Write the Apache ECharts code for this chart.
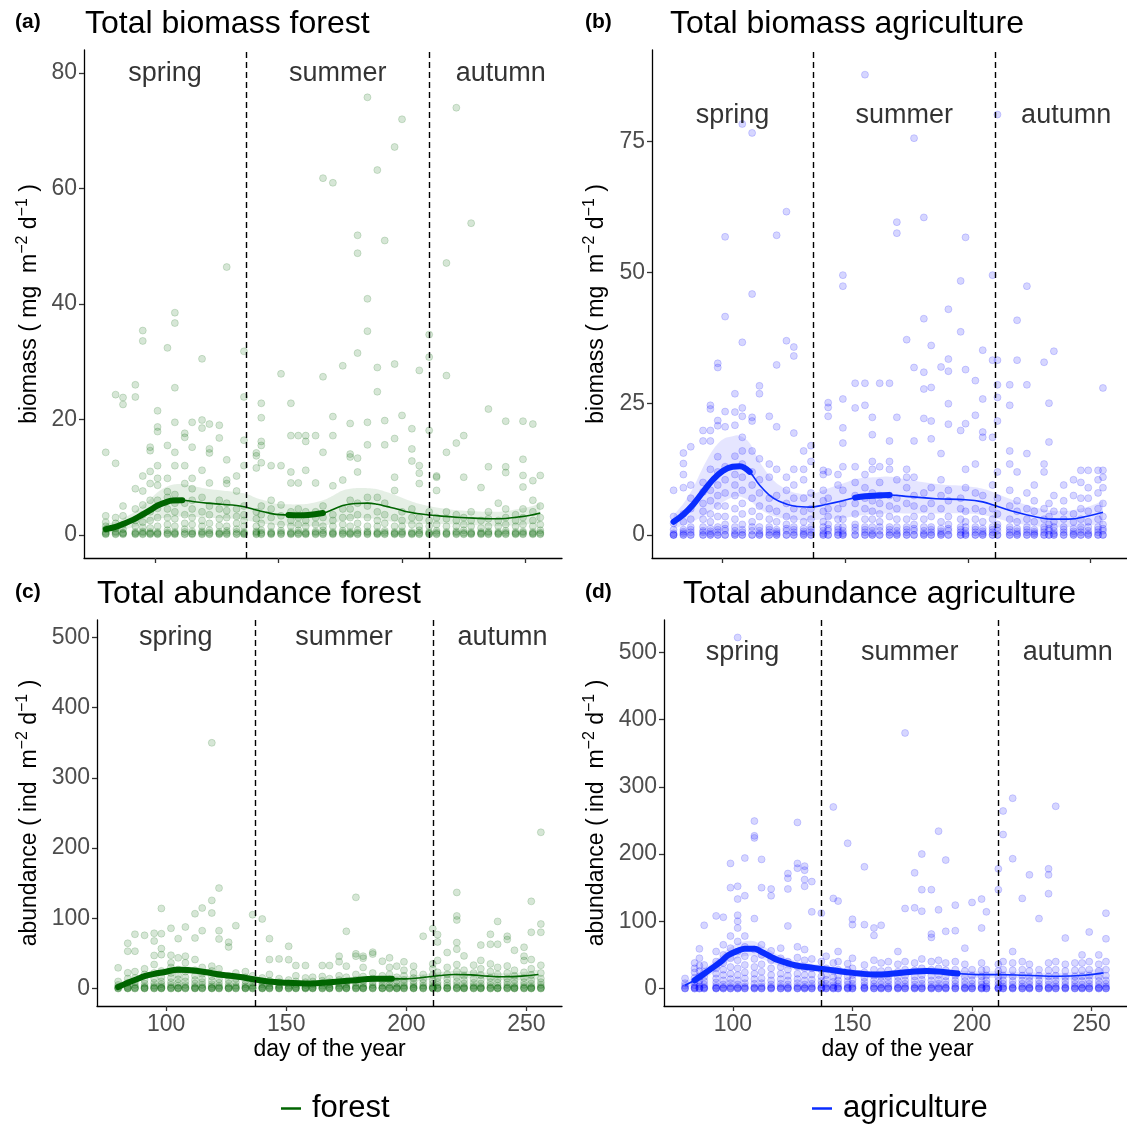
<!DOCTYPE html>
<html>
<head>
<meta charset="utf-8">
<title>Biomass and abundance by day of the year</title>
<script src="https://cdn.jsdelivr.net/npm/echarts@6/dist/echarts.min.js"></script>
<style>
  html, body { margin: 0; padding: 0; background: #ffffff; }
  #chart { width: 1127px; height: 1128px; }
</style>
</head>
<body>
<div id="chart"></div>
<script>
// ---- shared axis / season settings ----
const seasonBreaks = [137, 211];
const seasonNames = ['spring', 'summer', 'autumn'];
const seasonLabelDays = [104, 174, 240];
const dayTicks = [100, 150, 200, 250];
const biomassForestTicks = [0, 20, 40, 60, 80];
const biomassAgriTicks = [0, 25, 50, 75];
const abundanceTicks = [0, 100, 200, 300, 400, 500];

// ---- (a) total biomass, forest: trap samples per sampling day ----
const forestBiomassDays = [80,84,87,92,95,98,101,105,108,112,115,119,122,126,129,133,136,141,143,147,151,155,158,161,165,168,172,176,179,182,186,190,193,197,200,204,207,211,214,218,222,225,228,232,235,239,242,246,249,253,256];
const forestBiomassValues = [
  [0.1,0.2,0.3,0.5,1.0,1.5,2.2,3.3,14.3],
  [0.1,0.2,0.4,0.6,1.2,2.0,3.0,12.4,24.3],
  [0.1,0.2,0.3,0.4,1.0,1.8,3.3,5.0,22.6,23.8],
  [0.1,0.2,0.3,0.5,1.5,2.5,4.5,8.0,23.9,26.0],
  [0.1,0.2,0.4,0.6,1.3,2.2,3.5,5.2,7.6,10.2,33.6,35.4],
  [0.1,0.2,0.3,0.5,1.2,2.5,4.0,6.0,8.9,11.0,14.6,15.2],
  [0.1,0.2,0.3,0.5,1.5,3.0,4.6,6.0,8.6,9.8,12.0,17.9,18.7,21.5],
  [0.1,0.2,0.4,0.8,1.8,3.0,4.5,6.5,7.5,9.8,15.5,32.4],
  [0.1,0.2,0.3,0.5,1.5,2.8,4.0,5.5,7.0,12.0,14.3,19.5,25.5,36.7,38.5],
  [0.1,0.2,0.5,1.0,2.0,3.5,5.5,8.9,12.0,16.9,17.6],
  [0.1,0.2,0.3,0.6,1.8,3.0,4.5,6.0,8.0,9.8,15.2,19.5],
  [0.1,0.2,0.4,0.6,1.5,2.5,4.0,6.5,11.2,18.5,19.9,30.5],
  [0.1,0.2,0.4,0.8,2.0,3.5,5.0,9.0,14.2,14.9,19.2],
  [0.1,0.2,0.3,0.5,1.6,2.8,4.5,6.0,16.8,19.0],
  [0.1,0.2,0.4,0.7,1.5,3.0,4.2,5.5,8.9,9.5,13.0,46.4],
  [0.1,0.2,0.5,1.0,2.0,3.2,4.5,7.6,10.2],
  [0.1,0.2,0.3,0.5,1.5,2.5,3.5,5.0,12.0,16.4,23.9,31.8],
  [0.1,0.2,0.4,0.6,1.5,2.8,4.0,11.6,13.7,14.2],
  [0.1,0.2,0.4,0.8,2.0,3.5,5.0,12.5,15.5,16.2,20.3,22.8],
  [0.1,0.2,0.3,0.5,1.5,3.0,4.5,6.0,12.0],
  [0.1,0.2,0.4,0.7,1.8,3.3,5.2,12.0,27.9],
  [0.1,0.2,0.3,0.5,1.5,2.5,4.0,9.0,10.9,17.2,22.8],
  [0.1,0.2,0.4,0.8,1.8,3.0,4.5,9.0,17.2],
  [0.1,0.2,0.3,0.5,1.5,2.5,4.0,11.2,16.2,17.2],
  [0.1,0.2,0.4,0.6,1.8,3.0,4.0,9.0,17.2],
  [0.1,0.2,0.4,0.8,1.5,3.0,5.0,14.3,27.4,61.8],
  [0.1,0.2,0.3,0.5,1.5,2.5,3.5,8.5,17.2,20.5,61.0],
  [0.1,0.2,0.4,0.7,1.8,3.0,4.5,9.5,29.3],
  [0.1,0.2,0.3,0.5,1.5,3.0,4.5,6.0,13.5,14.0,19.3],
  [0.1,0.2,0.4,0.8,2.0,3.5,5.5,10.9,13.3,31.5,48.8,51.9],
  [0.1,0.2,0.4,0.6,1.5,3.0,5.0,6.5,15.6,19.5,35.3,40.9,75.8],
  [0.1,0.2,0.3,0.5,1.5,2.5,4.0,6.5,24.8,29.0,63.2],
  [0.1,0.2,0.4,0.7,2.0,3.5,5.5,15.6,19.8,51.0],
  [0.1,0.2,0.3,0.5,1.5,3.0,7.7,10.0,16.7,29.6,67.2],
  [0.1,0.2,0.4,0.6,1.5,2.5,4.0,20.7,72.0],
  [0.1,0.2,0.3,0.5,1.8,3.0,4.5,12.8,14.9,18.4],
  [0.1,0.2,0.4,0.8,1.5,3.0,8.9,10.7,12.0,28.5],
  [0.1,0.2,0.3,0.5,1.5,2.5,4.0,18.1,30.8,34.7],
  [0.1,0.2,0.4,0.7,1.8,3.0,7.7,10.0,10.2],
  [0.1,0.2,0.3,0.5,1.5,2.8,4.0,14.3,27.6,47.1],
  [0.1,0.2,0.4,0.6,1.5,2.5,3.5,15.9,74.0],
  [0.1,0.2,0.4,0.8,1.8,3.0,10.0,17.2],
  [0.1,0.2,0.3,0.5,1.5,2.5,4.0,54.0],
  [0.1,0.2,0.3,0.5,1.2,2.5,8.2],
  [0.1,0.2,0.4,0.6,1.5,2.8,4.0,11.8,21.8],
  [0.1,0.2,0.3,0.5,1.5,2.5,5.5],
  [0.1,0.2,0.4,0.7,1.8,3.0,4.5,10.8,11.8,19.7],
  [0.1,0.2,0.3,0.5,1.5,2.5,3.5],
  [0.1,0.2,0.4,0.6,1.8,3.0,4.5,8.3,10.3,13.1,19.7],
  [0.1,0.2,0.3,0.5,1.5,2.5,4.0,6.0,9.4,19.2],
  [0.1,0.2,0.4,0.8,1.8,3.0,5.0,10.3]
];
const forestBiomassFitDays = [80,84,87,91,94,98,101,104,107,111,116,121,127,133,137,141,145,149,154,158,162,168,172,176,181,186,190,194,198,202,206,211,216,222,229,236,242,247,252,256];
const forestBiomassFit  = [1.0,1.4,1.9,2.6,3.3,4.3,5.1,5.6,5.95,6.0,5.75,5.5,5.3,5.1,4.8,4.3,3.9,3.55,3.45,3.4,3.45,3.8,4.4,5.1,5.45,5.5,5.3,4.9,4.5,4.0,3.7,3.45,3.25,3.06,2.9,2.8,2.85,3.1,3.4,3.8];
const forestBiomassLow  = [0.3,0.6,0.9,1.3,1.7,2.3,2.7,3.0,3.1,3.2,3.1,3.0,2.9,2.8,2.5,2.2,1.9,1.7,1.6,1.5,1.5,1.6,2.0,2.5,2.8,2.9,2.7,2.4,2.2,1.9,1.9,1.9,1.9,1.8,1.7,1.6,1.6,1.7,1.9,2.1];
const forestBiomassHigh = [1.9,2.3,2.9,3.8,4.8,6.2,7.4,8.2,8.7,8.8,8.4,8.0,7.7,7.4,7.1,6.4,5.9,5.4,5.3,5.3,5.4,6.0,6.8,7.7,8.1,8.1,7.9,7.4,6.8,6.1,5.5,5.0,4.6,4.3,4.1,4.0,4.1,4.5,4.9,5.5];
const forestBiomassSignif = [[80, 111], [154, 168]];

// ---- (b) total biomass, agriculture ----
const agriBiomassDays = [80,84,87,92,95,98,101,105,108,112,115,119,122,126,129,133,136,141,143,147,149,154,158,161,164,168,171,175,178,182,185,189,192,197,199,203,206,210,212,217,220,224,227,231,233,235,239,243,246,249,253,255];
const agriBiomassValues = [
  [0,0,0,0.3,1.0,2.2,3.5,8.5],
  [0,0,0.3,0.6,1.0,2.5,4.0,9.0,11.5,13.6,15.6],
  [0,0,0.5,1.0,1.5,3.0,5.0,7.0,9.5,16.8],
  [0,0,0.5,0.8,1.5,3.0,4.5,6.0,8.2,10.0,17.9,19.9],
  [0,0,0.3,0.7,1.2,2.5,4.0,6.5,8.5,12.5,17.9,19.9,24.0,24.7],
  [0,0,0.5,1.0,1.5,3.5,5.5,7.5,9.5,12.0,14.9,20.8,21.8,31.9,32.7],
  [0,0,0.8,1.2,2.0,3.5,5.5,8.0,10.5,13.0,20.6,23.5,41.6,56.8],
  [0,0,0.3,0.8,1.5,3.0,5.0,7.5,9.5,11.5,15.0,20.9,23.4,26.9],
  [0,0,0.5,1.0,2.0,4.0,6.0,8.5,11.0,13.5,16.0,18.6,22.6,24.2,36.7,78.3],
  [0,0,0.8,1.5,2.5,4.5,7.0,9.5,12.0,16.0,21.7,22.4,45.9,76.6],
  [0,0,0.3,0.8,1.5,3.5,5.5,8.0,10.5,14.5,26.9,28.4],
  [0,0,0.5,1.0,1.5,3.0,5.0,7.0,11.0,13.5,22.6],
  [0,0,0.3,0.6,1.0,2.5,4.5,7.5,12.5,20.6,32.4,57.1],
  [0,0,0.8,1.2,2.0,3.5,6.0,8.5,11.0,37.0,61.6],
  [0,0,0.5,1.0,1.5,3.0,5.0,7.0,9.5,12.5,19.4,34.1,35.8],
  [0,0,0.3,0.7,1.2,2.5,4.5,7.0,10.5,12.5,16.0],
  [0,0,0.5,1.0,1.5,3.0,5.0,8.0,14.0,17.0],
  [0,0,0.3,0.8,1.5,2.5,4.5,6.5,8.5,11.5,12.3],
  [0,0,0.8,1.2,2.0,3.5,5.0,7.0,12.0,22.6,24.3,25.2],
  [0,0,0.5,1.0,1.5,3.0,5.0,9.5,11.5],
  [0,0,0.3,0.8,1.5,3.0,6.0,8.5,13.0,17.5,20.4,25.9,47.4,49.5],
  [0,0,0.8,1.4,2.0,4.0,6.0,7.5,10.0,13.0,24.2,28.9],
  [0,0,0.5,1.0,1.5,3.0,5.0,7.0,9.0,11.5,24.7,28.9,87.7],
  [0,0,0.3,0.8,1.5,3.0,4.5,6.5,8.0,12.5,14.0,19.1,22.4],
  [0,0,0.8,1.5,2.5,4.0,6.0,7.5,10.0,13.0,28.9],
  [0,0,0.5,1.0,1.5,3.5,5.5,7.5,12.5,14.0,17.9,28.9],
  [0,0,0.3,0.8,1.5,3.0,5.0,7.0,10.5,22.4,57.5,59.6],
  [0,0,0.5,1.0,1.5,3.0,6.0,9.0,11.0,12.5,37.2],
  [0,0,0.8,1.2,2.0,3.5,5.5,7.5,11.0,17.9,31.9,75.6],
  [0,0,0.3,0.8,1.5,3.0,5.0,8.0,22.2,27.8,31.0,41.2,60.5],
  [0,0,0.5,1.0,1.5,3.5,6.0,9.0,18.3,21.7,28.1,36.1],
  [0,0,0.3,0.7,1.2,2.5,5.0,7.5,10.5,15.5,32.0],
  [0,0,0.8,1.2,2.0,3.5,6.5,8.5,21.1,25.0,31.2,33.5,43.0],
  [0,0,0.5,1.0,1.5,3.0,5.0,7.0,19.9,38.7,48.4],
  [0,0,0.3,0.8,1.5,2.5,4.5,9.0,12.5,21.2,31.5,56.7],
  [0,0,0.5,1.0,1.5,3.0,5.0,8.0,13.5,22.8,29.4],
  [0,0,0.3,0.7,1.2,2.5,4.5,7.5,18.6,19.6,25.9,35.2],
  [0,0,0.5,1.0,1.5,3.0,5.0,9.5,18.6,33.3,49.5],
  [0,0,0.8,1.4,2.0,4.0,7.0,12.0,21.7,26.2,28.6,33.3,80.1],
  [0,0,0.5,1.0,1.5,3.0,5.5,8.5,13.5,16.0,24.7,28.6],
  [0,0,0.3,0.7,1.2,2.5,4.5,6.5,12.0,33.3,40.9],
  [0,0,0.5,1.0,1.5,3.0,5.0,8.0,15.5,28.6,47.4],
  [0,0,0.3,0.6,1.0,2.5,4.5,6.5,9.5],
  [0,0,0.5,1.0,1.5,3.0,5.0,12.0,13.5,32.9],
  [0,0,0.8,1.2,2.0,3.5,6.0,17.7,25.1],
  [0,0,0.3,0.8,1.5,2.5,4.5,7.5,35.0],
  [0,0,0.5,1.0,1.5,3.0,4.5,6.5,9.5],
  [0,0,0.3,0.7,1.2,2.5,4.0,7.5,10.5],
  [0,0,0.5,1.0,1.5,3.0,5.0,7.0,10.0,12.3],
  [0,0,0.3,0.8,1.5,2.5,4.5,7.0,9.0,12.3],
  [0,0,0.5,1.0,1.5,3.0,5.0,8.0,10.5,12.3],
  [0,0,0.8,1.2,2.0,3.5,6.0,9.0,11.0,12.3,28.0]
];
const agriBiomassFitDays = [80,84,88,92,96,100,104,107,111,115,119,123,129,136,142,149,154,158,163,168,176,187,199,206,211,219,227,234,241,249,255];
const agriBiomassFit  = [2.5,3.9,5.8,8.2,10.5,12.2,13.0,13.1,12.0,9.5,7.6,6.4,5.5,5.3,5.8,6.5,7.1,7.35,7.5,7.6,7.3,6.9,6.7,6.3,5.6,4.4,3.5,3.0,3.0,3.6,4.3];
const agriBiomassLow  = [1.2,1.8,2.6,3.5,4.8,6.2,7.2,7.3,6.5,5.0,3.9,3.3,2.9,2.8,3.0,3.2,3.6,3.8,4.0,4.1,4.1,4.1,4.1,3.8,3.2,2.3,1.7,1.5,1.5,1.8,2.1];
const agriBiomassHigh = [3.8,6.0,9.0,12.9,16.2,18.2,18.8,18.9,17.5,14.0,11.3,9.5,8.1,7.8,8.7,9.8,10.6,10.9,11.0,11.1,10.5,9.7,9.3,8.8,8.0,6.5,5.3,4.6,4.6,5.4,6.5];
const agriBiomassSignif = [[80, 111], [154, 168]];

// ---- (c) total abundance, forest ----
const forestAbundanceDays = [80,84,87,91,95,98,102,105,108,112,115,119,122,126,129,133,136,140,143,147,151,154,158,161,165,168,172,175,179,182,186,190,193,196,199,203,207,211,213,217,221,224,228,231,235,238,242,245,249,252,256];
const forestAbundanceValues = [
  [0,0,1,2,5,10,29.4],
  [0,0,1,1,3,8,14,22.3,53.1,64.4],
  [0,0,1,2,5,9,15,24,53.1,77.2],
  [0,0,1,1,3,7,12,20,28,75.7],
  [0,0,1,2,4,8,14,22,34.1,47,67.6,78.6],
  [0,0,1,1,3,6,10,16,25,48.2,56.8,78,114],
  [0,0,1,2,5,9,15,22,30,36.5,47.3,85.7],
  [0,0,1,1,4,8,13,19,27,43.6,71],
  [0,0,1,2,5,10,16,24,36.5,46,87.6],
  [0,0,1,1,3,7,12,18,26,41.2,71.9,106.5],
  [0,0,1,2,5,9,14,21,30,82.3,114.6],
  [0,0,1,1,3,6,11,17,25,31.8,107.5,125.5,350],
  [0,0,1,2,4,8,13,20,28,70.5,82.3,143],
  [0,0,1,1,3,7,12,18,59.2,65.8],
  [0,0,1,2,4,9,14,22,89.5],
  [0,0,1,1,3,6,11,16,24],
  [0,0,1,2,4,8,12,18,105.1],
  [0,0,1,1,3,6,10,15,99],
  [0,0,1,2,4,7,11,20,41.2,71],
  [0,0,1,1,3,5,9,14,42.1],
  [0,0,1,2,4,7,12,41,60.1],
  [0,0,1,1,3,6,10,18,32.7],
  [0,0,1,1,2,5,9,15,32.7],
  [0,0,1,1,3,6,10,16],
  [0,0,1,2,4,7,11,17,32.7],
  [0,0,1,1,3,6,9,14,32.7],
  [0,0,1,2,4,7,12,18,38,46],
  [0,0,1,1,3,6,10,16,31.8,81.4],
  [0,0,1,2,4,8,12,20,46,49.3,129.8],
  [0,0,1,1,3,7,11,17,30,43,46],
  [0,0,1,2,5,9,14,22,49,51.7],
  [0,0,1,1,4,8,12,18,38.8],
  [0,0,1,2,5,9,13,20,30,43.6],
  [0,0,1,1,3,7,11,16,31.8],
  [0,0,1,2,4,8,12,18,26,38],
  [0,0,1,1,3,6,10,15,22,31.8],
  [0,0,1,2,4,8,13,20,74.4],
  [0,0,1,1,3,7,12,19,28,35,85.2],
  [0,0,1,2,5,9,15,23,40,66.3,76.7],
  [0,0,1,1,4,8,13,20,30,51.2],
  [0,0,1,2,5,10,16,24,34,56,65.4,97.6,103.3,136.8],
  [0,0,1,1,3,7,12,18,26,46.4],
  [0,0,1,2,4,8,14,22,33.2],
  [0,0,1,1,3,7,12,19,28,40,61.8],
  [0,0,1,2,5,9,15,24,35,63,77.2],
  [0,0,1,1,4,8,13,20,30,63,95.5],
  [0,0,1,2,5,9,14,22,32,69.7,74.4],
  [0,0,1,1,3,7,12,18,26,54.4],
  [0,0,1,2,5,9,15,23,39.8,46,58.7],
  [0,0,1,1,3,7,12,19,28,41.2,80,124.1],
  [0,0,1,2,5,9,14,22,33,80,91.8,222.5]
];
const forestAbundanceFitDays = [80,84,88,91,95,99,105,109,116,123,130,137,144,151,158,165,172,179,186,194,200,207,214,220,227,234,241,248,255];
const forestAbundanceFit  = [2,8,13.5,17.5,20.8,23.2,26.8,26.2,23.4,19.4,16.6,12.8,9.5,8,7.1,8,9.9,11.8,13.7,13.7,13.7,15.6,18.5,19.9,19.4,17.5,16.6,17.5,19.9];
const forestAbundanceLow  = [0,5.5,10.5,14,16.8,18.7,21.8,21.2,18.9,15.4,13.1,9.3,6.5,5,4.1,5,6.9,8.8,10.2,10.2,9.7,11.1,13.5,14.9,14.4,12.5,11.6,12,12.9];
const forestAbundanceHigh = [4,10.5,16.5,21,24.8,27.7,31.8,31.2,27.9,23.4,20.1,16.3,12.5,11,10.1,11,12.9,14.8,17.2,17.2,17.7,20.1,23.5,24.9,24.4,22.5,21.6,23,26.9];
const forestAbundanceSignif = [[80, 194]];

// ---- (d) total abundance, agriculture ----
const agriAbundanceDays = [80,84,86,88,93,96,99,102,105,109,112,116,120,123,127,130,133,137,139,142,144,148,150,155,159,162,165,169,172,176,179,183,186,189,193,197,200,204,206,211,213,217,221,224,228,232,235,239,243,246,249,253,256];
const agriAbundanceValues = [
  [0,0,1,4,8,15],
  [0,0,1,2,5,10,16,24,30,38],
  [0,0,1,3,7,12,18,26,34,45,59],
  [0,0,1,2,6,11,17,25,35,94],
  [0,0,1,1,4,9,15,22,30,40,55,108],
  [0,0,1,2,6,12,20,28,38,50,65,106],
  [0,0,1,3,8,14,22,32,45,60,78,150,186],
  [0,0,1,2,6,12,20,30,42,55,70,90,100,109,133,152,522],
  [0,0,1,3,8,15,24,35,48,62,78,138,194],
  [0,0,1,2,7,14,22,32,44,58,104,224,227,249],
  [0,0,1,3,8,15,25,36,50,65,150,192],
  [0,0,1,2,6,12,20,30,42,56,138,148],
  [0,0,1,3,7,14,22,32,45,60],
  [0,0,1,2,6,12,19,28,40,93,148,164,171],
  [0,0,1,3,8,14,22,33,46,62,179,186,247],
  [0,0,1,2,6,12,20,30,42,58,152,162,176,182],
  [0,0,1,3,7,13,21,30,44,114,159],
  [0,0,1,2,6,11,18,28,40,112],
  [0,0,1,3,7,13,20,30,48],
  [0,0,1,2,5,10,17,26,38,134,270],
  [0,0,1,3,7,12,19,28,40,55,130],
  [0,0,1,2,6,11,18,27,37,216],
  [0,0,1,3,7,13,20,30,45,95,103],
  [0,0,1,2,5,10,16,24,35,95,181],
  [0,0,1,3,7,12,19,28,42,79,90],
  [0,0,1,2,6,11,17,26,38,94],
  [0,0,1,3,7,12,18,27,40],
  [0,0,1,2,6,11,17,25,36,55],
  [0,0,1,3,7,12,19,28,40,119,380],
  [0,0,1,2,6,12,18,27,38,120,172],
  [0,0,1,3,7,13,20,30,44,115,147,200],
  [0,0,1,2,6,12,19,28,40,76,81,147],
  [0,0,1,3,7,13,20,30,42,117,234],
  [0,0,1,2,6,11,18,27,38,85,191],
  [0,0,1,3,7,12,19,28,40,86,124],
  [0,0,1,2,6,11,17,26,36,60],
  [0,0,1,3,7,12,19,28,128],
  [0,0,1,2,6,11,18,27,38,90,133],
  [0,0,1,3,7,12,19,28,114],
  [0,0,1,2,6,11,17,26,36,147,178],
  [0,0,1,3,7,12,19,28,40,229,264],
  [0,0,1,2,6,11,18,27,38,55,193,283],
  [0,0,1,3,7,12,19,28,40,134],
  [0,0,1,2,6,11,17,26,36,169],
  [0,0,1,3,7,12,19,28,104],
  [0,0,1,2,6,11,18,27,38,141,169,178],
  [0,0,1,3,7,12,19,28,40,271],
  [0,0,1,2,6,11,17,26,36,75],
  [0,0,1,3,7,12,18,27,38],
  [0,0,1,2,6,11,18,27,38,50],
  [0,0,1,3,7,12,19,28,40,84],
  [0,0,1,2,6,11,17,26,36,50],
  [0,0,1,3,7,12,19,28,40,74,112]
];
const agriAbundanceFitDays = [80,84,88,91,95,98,102,105,109,112,116,119,126,133,140,147,153,160,167,174,181,188,194,202,211,222,236,247,255];
const agriAbundanceFit  = [5,12.3,22,29.6,40,49.4,56,59.3,59.3,54.3,47,42,34.6,31.1,28.1,24.7,22.2,20.7,22.2,24.7,26.2,24.7,22.2,20.7,20.7,19.8,18.3,19.8,23.2];
const agriAbundanceLow  = [0,6.3,15,21.6,31,39.4,45,48.3,48.3,44.3,38,34,27.6,25.1,23.1,19.7,17.2,15.7,17.2,19.7,21.2,19.7,17.2,15.7,15.7,14.8,13.3,13.8,15.2];
const agriAbundanceHigh = [10,18.3,29,37.6,49,59.4,67,70.3,70.3,64.3,56,50,41.6,37.1,33.1,29.7,27.2,25.7,27.2,29.7,31.2,29.7,27.2,25.7,25.7,24.8,23.3,25.8,31.2];
const agriAbundanceSignif = [[84, 194]];

// ---- helpers ----
const FONT = '"Liberation Sans", Arial, Helvetica, sans-serif';
const FOREST = '#006400';
const AGRI = '#0a2cff';

function columnsToPoints(days, cols) {
  const pts = [];
  days.forEach((d, i) => cols[i].forEach(v => pts.push([d, v])));
  return pts;
}
function pair(days, vals) {
  return days.map((d, i) => [d, vals[i]]);
}
// Catmull-Rom pass over pixel points so the band edges curve like the smoothed lines
function smoothPixels(pts, steps) {
  const out = [];
  for (let i = 0; i < pts.length - 1; i++) {
    const p0 = pts[Math.max(i - 1, 0)], p1 = pts[i], p2 = pts[i + 1], p3 = pts[Math.min(i + 2, pts.length - 1)];
    for (let s = 0; s < steps; s++) {
      const t = s / steps, t2 = t * t, t3 = t2 * t;
      out.push([0, 1].map(c => 0.5 * ((2 * p1[c]) + (-p0[c] + p2[c]) * t +
        (2 * p0[c] - 5 * p1[c] + 4 * p2[c] - p3[c]) * t2 + (-p0[c] + 3 * p1[c] - 3 * p2[c] + p3[c]) * t3)));
    }
  }
  out.push(pts[pts.length - 1]);
  return out;
}

const panels = [
  {
    tag: '(a)', title: 'Total biomass forest', tagX: 15, titleX: 85, headY: 24,
    grid: { left: 84, top: 50, width: 478, height: 508 },
    yMin: -4, yMax: 84, yTicks: biomassForestTicks, labelY: 80, xLabels: false,
    yTitle: 'biomass ( mg  m', yTitleX: 30, name: 'forest', color: FOREST, rgb: '0,100,0',
    days: forestBiomassDays, values: forestBiomassValues,
    fitDays: forestBiomassFitDays, fit: forestBiomassFit, low: forestBiomassLow, high: forestBiomassHigh,
    signif: forestBiomassSignif
  },
  {
    tag: '(b)', title: 'Total biomass agriculture', tagX: 585, titleX: 670, headY: 24,
    grid: { left: 652, top: 50, width: 477, height: 508 },
    yMin: -4.4, yMax: 92.4, yTicks: biomassAgriTicks, labelY: 80, xLabels: false,
    yTitle: 'biomass ( mg  m', yTitleX: 597, name: 'agriculture', color: AGRI, rgb: '0,0,255',
    days: agriBiomassDays, values: agriBiomassValues,
    fitDays: agriBiomassFitDays, fit: agriBiomassFit, low: agriBiomassLow, high: agriBiomassHigh,
    signif: agriBiomassSignif
  },
  {
    tag: '(c)', title: 'Total abundance forest', tagX: 15, titleX: 97, headY: 594,
    grid: { left: 97, top: 620, width: 465, height: 386 },
    yMin: -25, yMax: 525, yTicks: abundanceTicks, labelY: 500, xLabels: true,
    yTitle: 'abundance ( ind  m', yTitleX: 30, name: 'forest ', color: FOREST, rgb: '0,100,0',
    days: forestAbundanceDays, values: forestAbundanceValues,
    fitDays: forestAbundanceFitDays, fit: forestAbundanceFit, low: forestAbundanceLow, high: forestAbundanceHigh,
    signif: forestAbundanceSignif
  },
  {
    tag: '(d)', title: 'Total abundance agriculture', tagX: 585, titleX: 683, headY: 594,
    grid: { left: 664, top: 620, width: 467, height: 386 },
    yMin: -26, yMax: 548, yTicks: abundanceTicks, labelY: 500, xLabels: true,
    yTitle: 'abundance ( ind  m', yTitleX: 597, name: 'agriculture ', color: AGRI, rgb: '0,0,255',
    days: agriAbundanceDays, values: agriAbundanceValues,
    fitDays: agriAbundanceFitDays, fit: agriAbundanceFit, low: agriAbundanceLow, high: agriAbundanceHigh,
    signif: agriAbundanceSignif
  }
];

const grids = [], xAxes = [], yAxes = [], series = [], graphics = [];
const axisLineStyle = { color: '#000000', width: 1.3 };
const tickStyle = { color: '#333333', width: 1.3 };
const tickLabel = { fontSize: 23, color: '#4d4d4d', fontFamily: FONT };

panels.forEach((p, i) => {
  grids.push(Object.assign({}, p.grid));

  xAxes.push({
    gridIndex: i, type: 'value', min: 71.2, max: 264.8,
    axisLine: { show: true, onZero: false, lineStyle: axisLineStyle },
    axisTick: { show: true, length: 5, lineStyle: tickStyle, customValues: dayTicks },
    axisLabel: Object.assign({ show: p.xLabels, margin: 7, customValues: dayTicks }, tickLabel),
    splitLine: { show: false }
  });
  yAxes.push({
    gridIndex: i, type: 'value', min: p.yMin, max: p.yMax,
    axisLine: { show: true, onZero: false, lineStyle: axisLineStyle },
    axisTick: { show: true, length: 5, lineStyle: tickStyle, customValues: p.yTicks },
    axisLabel: Object.assign({ show: true, margin: 7, customValues: p.yTicks }, tickLabel),
    splitLine: { show: false }
  });

  const base = { xAxisIndex: i, yAxisIndex: i, silent: true, animation: false };

  // confidence band around the trend
  series.push(Object.assign({}, base, {
    type: 'custom', z: 1, clip: true,
    data: [[p.fitDays[0], p.fit[0]]],
    renderItem: function (params, api) {
      const upper = smoothPixels(p.fitDays.map((d, k) => api.coord([d, p.high[k]])), 8);
      const lower = smoothPixels(p.fitDays.map((d, k) => api.coord([d, p.low[k]])), 8).reverse();
      return {
        type: 'polygon',
        shape: { points: upper.concat(lower) },
        style: { fill: 'rgba(' + p.rgb + ',0.1)', stroke: null }
      };
    }
  }));

  // individual samples
  series.push(Object.assign({}, base, {
    type: 'scatter', z: 2, symbolSize: 7,
    data: columnsToPoints(p.days, p.values),
    itemStyle: { color: 'rgba(' + p.rgb + ',0.2)', borderColor: 'rgba(' + p.rgb + ',0.2)', borderWidth: 1 }
  }));

  // fitted trend with season boundaries
  series.push(Object.assign({}, base, {
    type: 'line', name: p.name, z: 3, smooth: 0.4, symbol: 'none',
    data: pair(p.fitDays, p.fit),
    lineStyle: { width: 1.6, color: p.color },
    itemStyle: { color: p.color },
    markLine: {
      silent: true, symbol: ['none', 'none'], label: { show: false }, animation: false,
      lineStyle: { type: [6, 4], color: '#000000', width: 1.4 },
      data: seasonBreaks.map(x => ({ xAxis: x }))
    }
  }));

  // stretches where the trend differs significantly
  p.signif.forEach(([from, to]) => {
    series.push(Object.assign({}, base, {
      type: 'line', z: 4, smooth: 0.4, symbol: 'none',
      data: pair(p.fitDays, p.fit).filter(pt => pt[0] >= from && pt[0] <= to),
      lineStyle: { width: 6, color: p.color, cap: 'round', join: 'round' }
    }));
  });

  // season names
  series.push(Object.assign({}, base, {
    type: 'scatter', z: 5, symbolSize: 1,
    itemStyle: { color: 'rgba(0,0,0,0)' },
    data: seasonNames.map((n, k) => ({ name: n, value: [seasonLabelDays[k], p.labelY] })),
    label: { show: true, position: 'inside', formatter: '{b}', fontSize: 27, color: '#000000', fontFamily: FONT }
  }));

  // panel tag and title
  graphics.push({
    type: 'text', x: p.tagX, y: p.headY - 2,
    style: { text: p.tag, fontSize: 21, fontWeight: 'bold', fontFamily: FONT, fill: '#000000', verticalAlign: 'middle' }
  });
  graphics.push({
    type: 'text', x: p.titleX, y: p.headY,
    style: { text: p.title, fontSize: 32, fontFamily: FONT, fill: '#000000', verticalAlign: 'middle' }
  });

  // y-axis title with unit exponents
  graphics.push({
    type: 'text', x: p.yTitleX, y: p.grid.top + p.grid.height / 2, rotation: Math.PI / 2,
    style: {
      text: '{n|' + p.yTitle + '}{s|\u22122}{n| d}{s|\u22121}{n| )}',
      align: 'center', verticalAlign: 'middle',
      rich: {
        n: { fontSize: 23, fontFamily: FONT, fill: '#000000', lineHeight: 30 },
        s: { fontSize: 16, fontFamily: FONT, fill: '#000000', lineHeight: 16, verticalAlign: 'top' }
      }
    }
  });

  if (p.xLabels) {
    graphics.push({
      type: 'text', x: p.grid.left + p.grid.width / 2, y: 1050,
      style: { text: 'day of the year', fontSize: 23, fontFamily: FONT, fill: '#000000', align: 'center', verticalAlign: 'middle' }
    });
  }
});

const legendText = { fontSize: 31, color: '#000000', fontFamily: FONT, padding: [0, 0, 0, 6] };
const chart = echarts.init(document.getElementById('chart'), null, { renderer: 'canvas' });
chart.setOption({
  animation: false,
  backgroundColor: '#ffffff',
  grid: grids,
  xAxis: xAxes,
  yAxis: yAxes,
  series: series,
  graphic: graphics,
  legend: [
    { data: ['forest'], left: 281, top: 1093, icon: 'rect', itemWidth: 20, itemHeight: 2.5,
      selectedMode: false, padding: 0, textStyle: legendText },
    { data: ['agriculture'], left: 812, top: 1093, icon: 'rect', itemWidth: 20, itemHeight: 2.5,
      selectedMode: false, padding: 0, textStyle: legendText }
  ]
});
</script>
</body>
</html>
